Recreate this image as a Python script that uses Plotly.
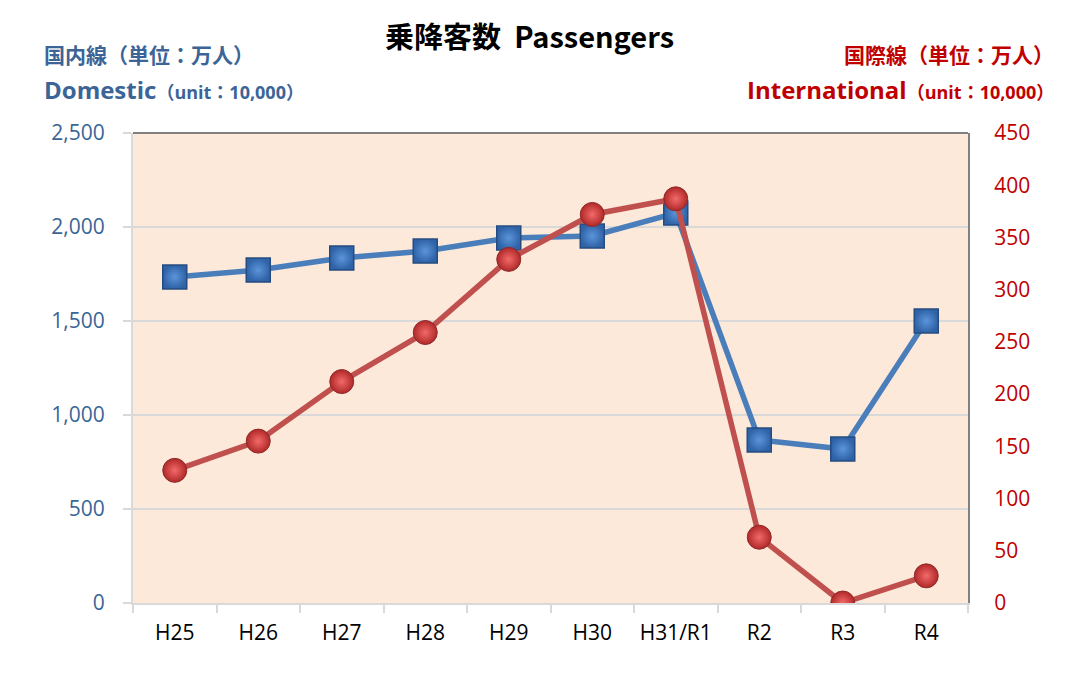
import plotly.graph_objects as go

categories = ["H25", "H26", "H27", "H28", "H29", "H30", "H31/R1", "R2", "R3", "R4"]
domestic = [1734, 1771, 1835, 1872, 1941, 1952, 2074, 867, 819, 1500]
international = [127, 155, 212, 259, 329, 372, 387, 63, 0, 26]
left_ticks = [0, 500, 1000, 1500, 2000, 2500]
right_ticks = [0, 50, 100, 150, 200, 250, 300, 350, 400, 450]

BLUE_TXT = "#3C6496"
RED_TXT = "#C00000"
FONT = "Open Sans, Noto Sans CJK JP, sans-serif"
CJK = "Noto Sans CJK JP, sans-serif"

L, R, T, B = 133, 97, 133, 88
W, H = 1065, 691

fig = go.Figure()
fig.add_trace(go.Scatter(
    x=categories, y=domestic, mode="lines+markers", name="Domestic",
    line=dict(color="#4A7EBB", width=5.5),
    marker=dict(symbol="square", size=24, color="#2F62A6",
                gradient=dict(type="radial", color="#5B95DB"),
                line=dict(color="#254C80", width=1.5)),
    yaxis="y"))
fig.add_trace(go.Scatter(
    x=categories, y=international, mode="lines+markers", name="International",
    line=dict(color="#C0504D", width=5.5),
    marker=dict(symbol="circle", size=24, color="#B02828",
                gradient=dict(type="radial", color="#F26A6A"),
                line=dict(color="#8E2A2A", width=1)),
    yaxis="y2"))

fig.update_layout(
    width=W, height=H,
    margin=dict(l=L, r=R, t=T, b=B),
    paper_bgcolor="white", plot_bgcolor="#FCE9DA",
    showlegend=False,
    font=dict(family=FONT),
    xaxis=dict(type="category", tickson="boundaries", ticks="outside", ticklen=8,
               tickcolor="#D9D9D9", tickwidth=2, showline=True, linecolor="#D9D9D9", linewidth=2,
               showgrid=False, tickfont=dict(size=21, color="black", family=FONT),
               ticklabelstandoff=10, range=[-0.5, 9.5], zeroline=False),
    yaxis=dict(range=[0, 2500], tickvals=left_ticks, tickformat=",",
               showgrid=True, gridcolor="#D9D9D9", gridwidth=2,
               showline=True, linecolor="#D9D9D9", linewidth=2,
               ticks="outside", ticklen=8, tickcolor="#D9D9D9", tickwidth=2,
               ticklabelstandoff=14,
               tickfont=dict(size=21, color=BLUE_TXT, family=FONT), zeroline=False),
    yaxis2=dict(range=[0, 450], tickvals=right_ticks, overlaying="y", side="right",
                showgrid=False, showline=True, linecolor="#808080", linewidth=2,
                ticklabelstandoff=20,
                tickfont=dict(size=21, color=RED_TXT, family=FONT), zeroline=False),
    shapes=[dict(type="line", xref="paper", yref="paper", x0=0, x1=1, y0=1, y1=1,
                 line=dict(color="#808080", width=2))],
)

annots = [
    dict(x=529, y=35, text="<b>乗降客数  Passengers</b>", xanchor="center",
         font=dict(size=29, color="black", family=CJK)),
    dict(x=42, y=54, text="<b>国内線（単位：万人）</b>", xanchor="left",
         font=dict(size=21, color=BLUE_TXT, family=CJK)),
    dict(x=42, y=90, text="<b><span style='font-size:24px'>Domestic</span>（unit：10,000）</b>",
         xanchor="left", font=dict(size=18, color=BLUE_TXT, family=FONT)),
    dict(x=1056, y=54, text="<b>国際線（単位：万人）</b>", xanchor="right",
         font=dict(size=21, color=RED_TXT, family=CJK)),
    dict(x=1056, y=90, text="<b><span style='font-size:24px'>International</span>（unit：10,000）</b>",
         xanchor="right", font=dict(size=18, color=RED_TXT, family=FONT)),
]
layout_annots = []
for a in annots:
    px = (a["x"] - L) / (W - L - R)
    py = 1 - (a["y"] - T) / (H - T - B)
    layout_annots.append(dict(xref="paper", yref="paper", x=px, y=py, text=a["text"],
                              xanchor=a["xanchor"], yanchor="middle", showarrow=False,
                              font=a["font"]))
fig.update_layout(annotations=layout_annots)

fig.write_html("out.html")
